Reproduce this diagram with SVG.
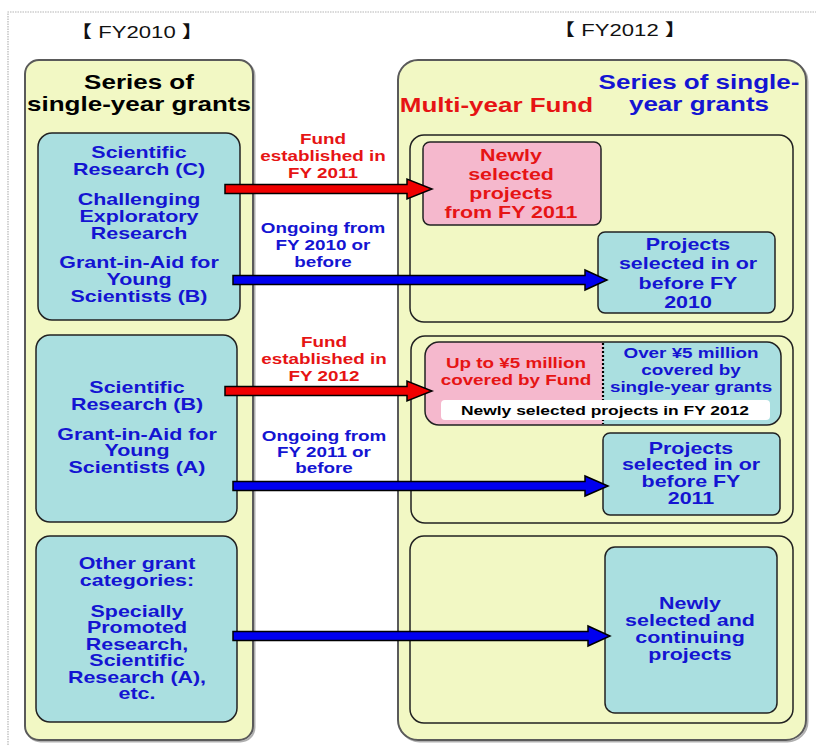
<svg xmlns="http://www.w3.org/2000/svg" width="816" height="745" viewBox="0 0 816 745">
<style>
text{font-family:"Liberation Sans",Arial,"Noto Sans CJK JP",sans-serif;font-weight:bold;text-anchor:middle}
.hdr{font-weight:normal;font-size:17px;fill:#111}
.ttl{font-size:20px}
.b{font-size:16px;fill:#1414d2}
.r{font-size:16px;fill:#e61414}
.lr{font-size:14.5px;fill:#e61414}
.lb{font-size:14.5px;fill:#1414d2}
.blk{fill:#000}
.panel{fill:#f2f8c4;stroke:#5a5a5a;stroke-width:2}
.shadow{fill:none;stroke:#b0b0b0;stroke-width:2}
.inner{fill:#f2f8c4;stroke:#222;stroke-width:1.5}
.cyan{fill:#aadfe0;stroke:#222;stroke-width:1.5}
.pink{fill:#f5b8cd;stroke:#222;stroke-width:1.5}
.ra{fill:#f00000;stroke:#000;stroke-width:1.5}
.ba{fill:#0000f0;stroke:#000;stroke-width:1.5}
</style>
<defs>
<clipPath id="splitclip"><rect x="425" y="342" width="356" height="83" rx="14"/></clipPath>
</defs>
<rect x="0" y="0" width="816" height="745" fill="#fff"/>
<path d="M8 745 V12 H816" fill="none" stroke="#b5b5b5" stroke-width="1.2" stroke-dasharray="1.5 1"/>

<g id="headers">
<g transform="translate(137 0) scale(1.3 1)"><text class="hdr" x="0" y="38">【 FY2010 】</text></g>
<g transform="translate(620 0) scale(1.3 1)"><text class="hdr" x="0" y="36">【 FY2012 】</text></g>
</g>

<g id="panel-fy2010">
<rect class="shadow" x="26.5" y="61.5" width="228" height="680" rx="14"/>
<rect class="panel" x="25" y="60" width="228" height="680" rx="14"/>
<g transform="translate(139 0) scale(1.3 1)">
<text class="ttl blk" x="0" y="89">Series of</text>
<text class="ttl blk" x="0" y="111">single-year grants</text>
</g>
</g>

<g id="panel-fy2012">
<rect class="shadow" x="399.5" y="61.5" width="408" height="680" rx="20"/>
<rect class="panel" x="398" y="60" width="408" height="680" rx="20"/>
<g transform="translate(496.5 0) scale(1.3 1)"><text class="ttl" fill="#e61414" x="0" y="112">Multi-year Fund</text></g>
<g transform="translate(699 0) scale(1.3 1)">
<text class="ttl" fill="#1414d2" x="0" y="89">Series of single-</text>
<text class="ttl" fill="#1414d2" x="0" y="111">year grants</text>
</g>
</g>

<g id="row1-right"><rect class="inner" x="410" y="135" width="383" height="187" rx="14"/></g>
<g id="row2-right"><rect class="inner" x="411" y="336" width="382" height="187" rx="14"/></g>
<g id="row3-right"><rect class="inner" x="410" y="536" width="383" height="187" rx="14"/></g>

<g id="src-c-challenging-youngB">
<rect class="cyan" x="38" y="133" width="202" height="187" rx="14"/>
<g transform="translate(139 0) scale(1.34 1)">
<text class="b" x="0" y="158">Scientific</text>
<text class="b" x="0" y="175">Research (C)</text>
<text class="b" x="0" y="205">Challenging</text>
<text class="b" x="0" y="222">Exploratory</text>
<text class="b" x="0" y="239">Research</text>
<text class="b" x="0" y="268">Grant-in-Aid for</text>
<text class="b" x="0" y="285">Young</text>
<text class="b" x="0" y="302">Scientists (B)</text>
</g>
</g>

<g id="src-b-youngA">
<rect class="cyan" x="36" y="335" width="201" height="187" rx="14"/>
<g transform="translate(137 0) scale(1.34 1)">
<text class="b" x="0" y="393">Scientific</text>
<text class="b" x="0" y="410">Research (B)</text>
<text class="b" x="0" y="440">Grant-in-Aid for</text>
<text class="b" x="0" y="456.5">Young</text>
<text class="b" x="0" y="473">Scientists (A)</text>
</g>
</g>

<g id="src-other">
<rect class="cyan" x="36" y="536" width="201" height="186" rx="14"/>
<g transform="translate(137 0) scale(1.34 1)">
<text class="b" x="0" y="569">Other grant</text>
<text class="b" x="0" y="586">categories:</text>
<text class="b" x="0" y="617">Specially</text>
<text class="b" x="0" y="633.5">Promoted</text>
<text class="b" x="0" y="650">Research,</text>
<text class="b" x="0" y="666.5">Scientific</text>
<text class="b" x="0" y="683">Research (A),</text>
<text class="b" x="0" y="699.5">etc.</text>
</g>
</g>

<g id="new-fy2011">
<rect class="pink" x="423" y="142" width="178" height="83" rx="7"/>
<g transform="translate(511 0) scale(1.34 1)">
<text class="r" x="0" y="161">Newly</text>
<text class="r" x="0" y="180">selected</text>
<text class="r" x="0" y="199">projects</text>
<text class="r" x="0" y="218">from FY 2011</text>
</g>
</g>

<g id="ongoing-2010">
<rect class="cyan" x="598" y="232" width="177" height="81" rx="7"/>
<g transform="translate(688 0) scale(1.34 1)">
<text class="b" x="0" y="250">Projects</text>
<text class="b" x="0" y="269">selected in or</text>
<text class="b" x="0" y="289">before FY</text>
<text class="b" x="0" y="308">2010</text>
</g>
</g>

<g id="new-fy2012">
<g clip-path="url(#splitclip)">
<rect x="425" y="342" width="356" height="83" fill="#aadfe0"/>
<rect x="425" y="342" width="178" height="83" fill="#f5b8cd"/>
</g>
<rect x="425" y="342" width="356" height="83" rx="14" fill="none" stroke="#222" stroke-width="1.5"/>
<line x1="603" y1="343" x2="603" y2="424" stroke="#000" stroke-width="2.2" stroke-dasharray="2 2"/>
<rect x="441" y="400" width="329" height="20" rx="4" fill="#fff"/>
<g transform="translate(516 0) scale(1.3 1)">
<text class="lr" x="0" y="368.5">Up to ¥5 million</text>
<text class="lr" x="0" y="385">covered by Fund</text>
</g>
<g transform="translate(691 0) scale(1.3 1)">
<text class="lb" x="0" y="358.5">Over ¥5 million</text>
<text class="lb" x="0" y="375.5">covered by</text>
<text class="lb" x="0" y="392.5">single-year grants</text>
</g>
<g transform="translate(605 0) scale(1.3 1)"><text class="blk" style="font-size:13.4px" x="0" y="415.5">Newly selected projects in FY 2012</text></g>
</g>

<g id="ongoing-2011">
<rect class="cyan" x="603" y="433" width="177" height="82" rx="7"/>
<g transform="translate(691 0) scale(1.34 1)">
<text class="b" x="0" y="454">Projects</text>
<text class="b" x="0" y="470.5">selected in or</text>
<text class="b" x="0" y="487.5">before FY</text>
<text class="b" x="0" y="504">2011</text>
</g>
</g>

<g id="new-continuing">
<rect class="cyan" x="605" y="547" width="172" height="166" rx="10"/>
<g transform="translate(690 0) scale(1.34 1)">
<text class="b" x="0" y="609">Newly</text>
<text class="b" x="0" y="626">selected and</text>
<text class="b" x="0" y="643">continuing</text>
<text class="b" x="0" y="660">projects</text>
</g>
</g>

<g id="connectors">
<polygon class="ra" points="225,184.5 407,184.5 407,179 432,189 407,199 407,193.5 225,193.5"/>
<polygon class="ba" points="233,275.5 585,275.5 585,270 607,280 585,290 585,284.5 233,284.5"/>
<polygon class="ra" points="225,386.5 407,386.5 407,381 432,391 407,401 407,395.5 225,395.5"/>
<polygon class="ba" points="233,481.5 585,481.5 585,476 608,486 585,496 585,490.5 233,490.5"/>
<polygon class="ba" points="233,631.5 588,631.5 588,626 610,636 588,646 588,640.5 233,640.5"/>
<g transform="translate(323 0) scale(1.3 1)">
<text class="lr" x="0" y="144">Fund</text>
<text class="lr" x="0" y="161">established in</text>
<text class="lr" x="0" y="178">FY 2011</text>
<text class="lb" x="0" y="233">Ongoing from</text>
<text class="lb" x="0" y="250">FY 2010 or</text>
<text class="lb" x="0" y="267">before</text>
</g>
<g transform="translate(324 0) scale(1.3 1)">
<text class="lr" x="0" y="347">Fund</text>
<text class="lr" x="0" y="364">established in</text>
<text class="lr" x="0" y="381">FY 2012</text>
<text class="lb" x="0" y="441">Ongoing from</text>
<text class="lb" x="0" y="457">FY 2011 or</text>
<text class="lb" x="0" y="473">before</text>
</g>
</g>
</svg>
